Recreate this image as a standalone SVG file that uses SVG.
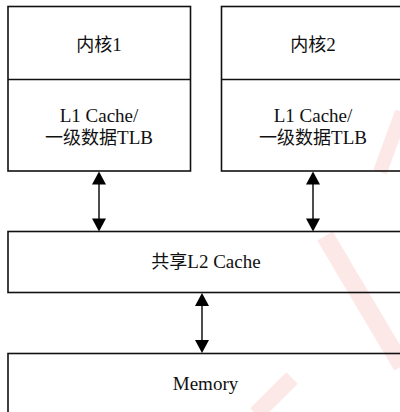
<svg xmlns="http://www.w3.org/2000/svg" width="400" height="412" viewBox="0 0 400 412">
<defs>
<style>
.box{fill:none;stroke:#111;stroke-width:1.6}
.div{stroke:#111;stroke-width:1.6}
.t{font-family:"Liberation Serif","Times New Roman",serif;font-size:19px;fill:#111;text-anchor:middle}
.cjk{font-family:"Noto Sans CJK SC",sans-serif;font-size:18px}
.c{stroke:#000;stroke-width:1.4;fill:none}
.wm{fill:none;stroke:#fde8e8;stroke-linecap:butt}
</style>
</defs>
<rect width="400" height="412" fill="#fff"/>
<g id="watermark">
<path class="wm" d="M256 414 L292 378" stroke-width="16"/>
<path class="wm" d="M325 236 L402 366" stroke-width="18"/>
<path class="wm" d="M380 172 L402 112" stroke-width="14"/>
</g>
<g id="core1">
<rect class="box" x="8" y="6.5" width="182.5" height="164.5"/>
<line class="div" x1="8" y1="79.5" x2="190.5" y2="79.5"/>
<text class="t" x="99" y="51"><tspan class="cjk">内核</tspan>1</text>
<text class="t" x="99" y="121.5">L1 Cache/</text>
<text class="t" x="99" y="144"><tspan class="cjk">一级数据</tspan>TLB</text>
</g>
<g id="core2">
<rect class="box" x="221.5" y="6.5" width="200" height="164.5"/>
<line class="div" x1="221.5" y1="79.5" x2="410" y2="79.5"/>
<text class="t" x="313" y="51"><tspan class="cjk">内核</tspan>2</text>
<text class="t" x="313" y="121.5">L1 Cache/</text>
<text class="t" x="313" y="144"><tspan class="cjk">一级数据</tspan>TLB</text>
</g>
<g id="l2">
<rect class="box" x="8" y="231.5" width="410" height="61"/>
<text class="t" x="206" y="268"><tspan class="cjk">共享</tspan>L2 Cache</text>
</g>
<g id="memory">
<rect class="box" x="8" y="353.5" width="410" height="80"/>
<text class="t" x="205.5" y="390">Memory</text>
</g>
<g id="connectors">
<line class="c" x1="99" y1="183" x2="99" y2="219"/>
<path d="M99 171.5 L92 184.5 L106 184.5 Z"/>
<path d="M99 231.5 L92 218.5 L106 218.5 Z"/>
<line class="c" x1="313" y1="183" x2="313" y2="219"/>
<path d="M313 171.5 L306 184.5 L320 184.5 Z"/>
<path d="M313 231.5 L306 218.5 L320 218.5 Z"/>
<line class="c" x1="202" y1="305" x2="202" y2="341"/>
<path d="M202 293 L195 306 L209 306 Z"/>
<path d="M202 353 L195 340 L209 340 Z"/>
</g>
</svg>
